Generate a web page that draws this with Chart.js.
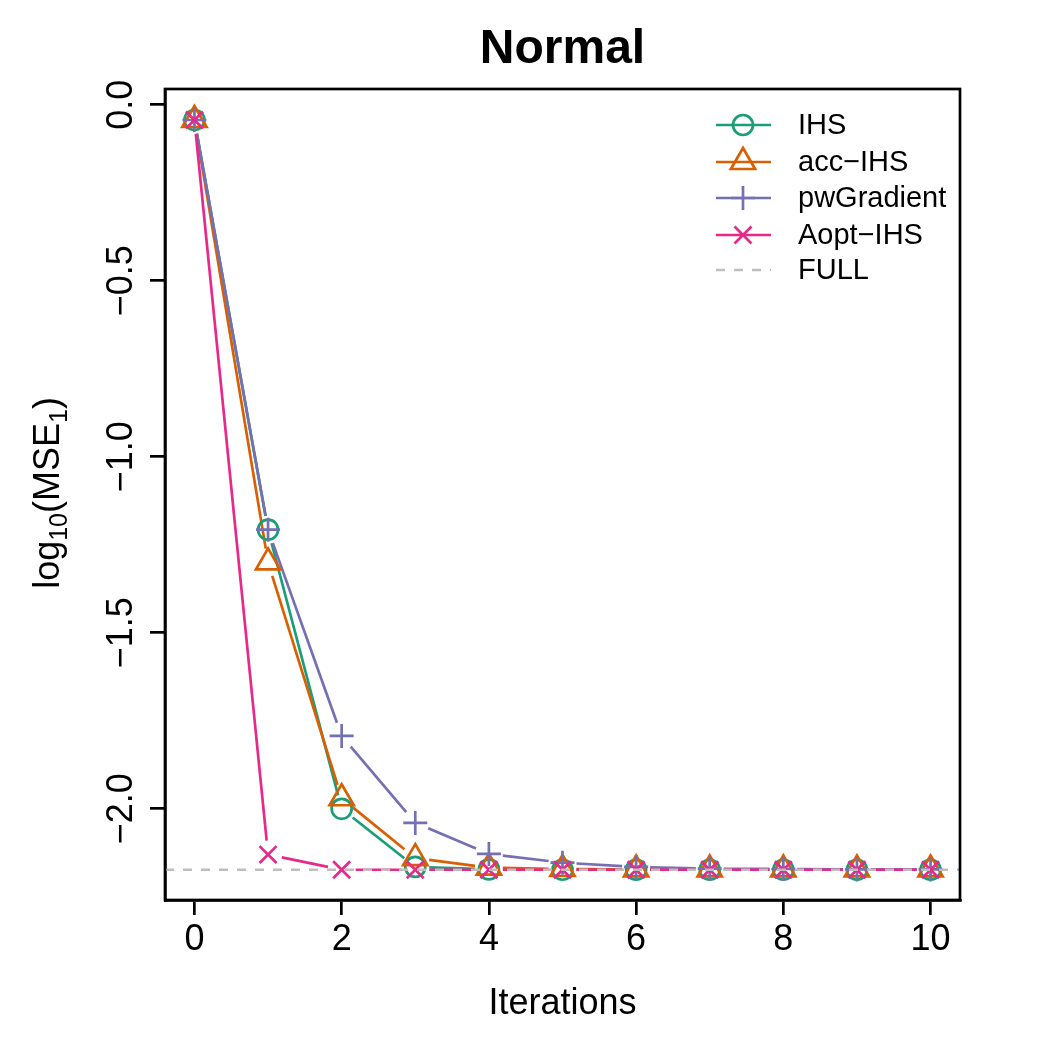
<!DOCTYPE html>
<html>
<head>
<meta charset="utf-8">
<script src="https://cdn.jsdelivr.net/npm/chart.js@4"></script>
<style>
  html, body { margin: 0; padding: 0; background: #fff; }
  #wrap { position: relative; width: 1050px; height: 1050px; }
</style>
</head>
<body>
<div id="wrap"><canvas id="chart" width="1050" height="1050"></canvas></div>
<script>
// values
const iterations = [0, 1, 2, 3, 4, 5, 6, 7, 8, 9, 10];
const ihs = [-0.043, -1.207, -2.0, -2.165, -2.172, -2.173, -2.173, -2.173, -2.173, -2.173, -2.173];
const accIhs = [-0.043, -1.30, -1.97, -2.14, -2.167, -2.171, -2.172, -2.172, -2.172, -2.172, -2.172];
const pwGradient = [-0.043, -1.207, -1.793, -2.04, -2.128, -2.153, -2.165, -2.17, -2.171, -2.172, -2.172];
const aoptIhs = [-0.043, -2.13, -2.173, -2.173, -2.173, -2.173, -2.173, -2.173, -2.173, -2.173, -2.173];
const fullLevel = -2.173;

const seriesNames = ['IHS', 'acc\u2212IHS', 'pwGradient', 'Aopt\u2212IHS'];
const seriesColors = ['#1B9E77', '#D95F02', '#7570B3', '#E7298A'];
const seriesStyles = ['circle', 'triangle', 'cross', 'crossRot'];
const seriesRadius = [10, 14, 12, 12];
const seriesValues = [ihs, accIhs, pwGradient, aoptIhs];

const FONT = '"Liberation Sans", Arial, Helvetica, sans-serif';
const LW = 2.7;

const datasets = seriesValues.map((vals, i) => ({
    label: seriesNames[i],
    data: iterations.map((x, j) => ({ x: x, y: vals[j] })),
    showLine: false,
    borderColor: seriesColors[i],
    backgroundColor: 'rgba(0,0,0,0)',
    pointStyle: seriesStyles[i],
    pointRadius: seriesRadius[i],
    pointBorderWidth: LW,
    order: 4 - i,
}));

// R style "b" lines: segments with a gap around each point
const gapLines = {
    id: 'gapLines',
    beforeDatasetsDraw(chart) {
        const ctx = chart.ctx;
        const gap = 14;
        ctx.save();
        ctx.beginPath();
        const a = chart.chartArea;
        ctx.rect(a.left, a.top, a.right - a.left, a.bottom - a.top);
        ctx.clip();
        chart.data.datasets.forEach((ds, i) => {
            const pts = chart.getDatasetMeta(i).data;
            ctx.strokeStyle = ds.borderColor;
            ctx.lineWidth = LW;
            for (let k = 0; k < pts.length - 1; k++) {
                const p = pts[k], q = pts[k + 1];
                const dx = q.x - p.x, dy = q.y - p.y;
                const len = Math.sqrt(dx * dx + dy * dy);
                if (len <= 2 * gap) continue;
                const ux = dx / len, uy = dy / len;
                ctx.beginPath();
                ctx.moveTo(p.x + ux * gap, p.y + uy * gap);
                ctx.lineTo(q.x - ux * gap, q.y - uy * gap);
                ctx.stroke();
            }
        });
        ctx.restore();
    },
    afterDatasetsDraw(chart) {
        const ctx = chart.ctx;
        const a = chart.chartArea;
        const y = chart.scales.y.getPixelForValue(fullLevel);
        ctx.save();
        ctx.strokeStyle = '#BEBEBE';
        ctx.lineWidth = LW;
        ctx.setLineDash([9, 9]);
        ctx.beginPath();
        ctx.moveTo(a.left, y);
        ctx.lineTo(a.right, y);
        ctx.stroke();
        ctx.restore();
    },
    afterDraw(chart) {
        const ctx = chart.ctx;
        const a = chart.chartArea;
        ctx.save();
        // box
        ctx.strokeStyle = '#000';
        ctx.lineWidth = LW;
        ctx.strokeRect(a.left, a.top, a.right - a.left, a.bottom - a.top);

        // title
        ctx.fillStyle = '#000';
        ctx.textAlign = 'center';
        ctx.textBaseline = 'alphabetic';
        ctx.font = 'bold 48px ' + FONT;
        ctx.fillText('Normal', (a.left + a.right) / 2, 63);

        // x label
        ctx.font = '36px ' + FONT;
        ctx.fillText('Iterations', (a.left + a.right) / 2, 1014);

        // y tick labels, rotated like R's default
        const ys = chart.scales.y;
        ys.ticks.forEach(t => {
            const py = ys.getPixelForValue(t.value);
            ctx.save();
            ctx.translate(132, py);
            ctx.rotate(-Math.PI / 2);
            ctx.textAlign = 'center';
            ctx.font = '36px ' + FONT;
            ctx.fillText(t.value.toFixed(1).replace('-', '\u2212'), 0, 0);
            ctx.restore();
        });

        // y axis title: log10(MSE1)
        const parts = [['log', 36, 0], ['10', 25, 8], ['(MSE', 36, 0], ['1', 25, 8], [')', 36, 0]];
        let total = 0;
        parts.forEach(p => { ctx.font = p[1] + 'px ' + FONT; total += ctx.measureText(p[0]).width; });
        ctx.save();
        ctx.translate(59, 493);
        ctx.rotate(-Math.PI / 2);
        ctx.textAlign = 'left';
        let cx = -total / 2;
        parts.forEach(p => {
            ctx.font = p[1] + 'px ' + FONT;
            ctx.fillText(p[0], cx, p[2]);
            cx += ctx.measureText(p[0]).width;
        });
        ctx.restore();

        // legend
        const rowY = [125, 162, 198, 235, 270];
        const lx0 = 716, lx1 = 771, mx = 743, tx = 798;
        ctx.font = '29px ' + FONT;
        ctx.textAlign = 'left';
        ctx.textBaseline = 'middle';
        for (let i = 0; i < 4; i++) {
            ctx.strokeStyle = seriesColors[i];
            ctx.lineWidth = LW;
            ctx.setLineDash([]);
            ctx.beginPath();
            ctx.moveTo(lx0, rowY[i]);
            ctx.lineTo(lx1, rowY[i]);
            ctx.stroke();
            ctx.fillStyle = 'rgba(0,0,0,0)';
            Chart.helpers.drawPoint(ctx, {
                pointStyle: seriesStyles[i], radius: seriesRadius[i], borderWidth: LW, rotation: 0
            }, mx, rowY[i]);
            ctx.fillStyle = '#000';
            ctx.fillText(seriesNames[i], tx, rowY[i] + 1);
        }
        ctx.strokeStyle = '#BEBEBE';
        ctx.lineWidth = LW;
        ctx.setLineDash([9, 9]);
        ctx.beginPath();
        ctx.moveTo(lx0, rowY[4]);
        ctx.lineTo(lx1, rowY[4]);
        ctx.stroke();
        ctx.setLineDash([]);
        ctx.fillStyle = '#000';
        ctx.fillText('FULL', tx, rowY[4] + 1);
        ctx.restore();
    }
};

new Chart(document.getElementById('chart'), {
    type: 'scatter',
    data: { datasets: datasets },
    options: {
        responsive: false,
        animation: false,
        layout: { padding: { top: 89, right: 90, left: 0, bottom: 0 } },
        plugins: {
            legend: { display: false },
            tooltip: { enabled: false },
            title: { display: false },
        },
        scales: {
            x: {
                type: 'linear',
                min: -0.4,
                max: 10.4,
                afterFit(scale) { scale.height = 150; },
                ticks: {
                    stepSize: 2,
                    includeBounds: false,
                    color: '#000',
                    padding: 3,
                    maxRotation: 0,
                    font: { size: 36, family: FONT },
                    callback: v => String(v),
                },
                grid: { drawOnChartArea: false, drawTicks: true, tickLength: 15, color: '#000', lineWidth: LW },
                border: { display: true, color: '#000', width: LW },
            },
            y: {
                type: 'linear',
                min: -2.259,
                max: 0.045,
                afterFit(scale) { scale.width = 165; },
                ticks: {
                    stepSize: 0.5,
                    includeBounds: false,
                    display: false,
                },
                grid: { drawOnChartArea: false, drawTicks: true, tickLength: 15, color: '#000', lineWidth: LW },
                border: { display: true, color: '#000', width: LW },
            },
        },
    },
    plugins: [gapLines],
});
</script>
</body>
</html>
